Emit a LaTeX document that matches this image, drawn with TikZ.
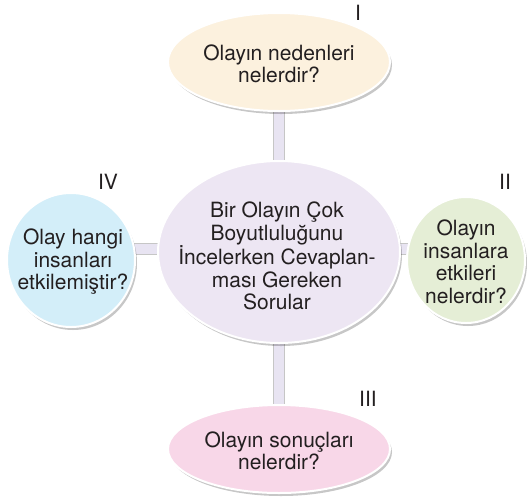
\documentclass[tikz,border=0pt]{standalone}
\usepackage{fontspec}
\setmainfont{TeX Gyre Heros}
\usetikzlibrary{shapes.geometric,shadows,backgrounds}
\definecolor{cream}{HTML}{FCF1DE}
\definecolor{lav}{HTML}{EDE6F3}
\definecolor{lblue}{HTML}{D3EEF9}
\definecolor{lgreen}{HTML}{E5EED6}
\definecolor{lpink}{HTML}{F8D7E8}
\definecolor{barfill}{HTML}{E8E4F2}
\definecolor{txt}{HTML}{231F20}
\tikzset{
  bub/.style={ellipse, draw=white, line width=2pt, inner sep=0pt,
    drop shadow={shadow xshift=2pt, shadow yshift=-3pt, opacity=.22, fill=black}},
  btext/.style={align=center, text=txt, inner sep=0pt, font=\fontsize{21}{22.5}\selectfont},
  bar/.style={double=barfill, double distance=10pt, line width=0.8pt, draw=gray!45},
  roman/.style={text=txt, font=\fontsize{21}{22}\selectfont, inner sep=0pt}
}
\begin{document}
\begin{tikzpicture}[x=1pt,y=-1pt]
\useasboundingbox (0,0) rectangle (527,499);
\node[bub, fill=cream, minimum width=222pt, minimum height=98pt] (n1) at (279,62) {};
\node[bub, fill=lav, minimum width=242pt, minimum height=182pt] (c) at (279,252) {};
\node[bub, fill=lblue, minimum width=128pt, minimum height=134pt] (n4) at (71,260) {};
\node[bub, fill=lgreen, minimum width=118pt, minimum height=126pt] (n2) at (466,260) {};
\node[bub, fill=lpink, minimum width=222pt, minimum height=88pt] (n3) at (279,449) {};
\node[btext] (t1) at (279,64) {Olayın nedenleri\\nelerdir?};
\node[btext] (tc) at (277,256) {Bir Olayın Çok\\Boyutluluğunu\\İncelerken Cevaplan-\\ması Gereken\\Sorular};
\node[btext] (t4) at (73,262) {Olay hangi\\insanları\\etkilemiştir?};
\node[btext] (t2) at (466,262) {Olayın\\insanlara\\etkileri\\nelerdir?};
\node[btext] (t3) at (279,451) {Olayın sonuçları\\nelerdir?};
\coordinate (hb) at (279,249);
\begin{pgfonlayer}{background}
\draw[bar] (n1.center) -- (n3.center);
\draw[bar] (n4 |- hb) -- (n2 |- hb);
\end{pgfonlayer}
\node[roman] (l1) at (358,13) {I};
\node[roman] (l2) at (505,182) {II};
\node[roman] (l3) at (368,399) {III};
\node[roman] (l4) at (108,182) {IV};
\end{tikzpicture}
\end{document}
